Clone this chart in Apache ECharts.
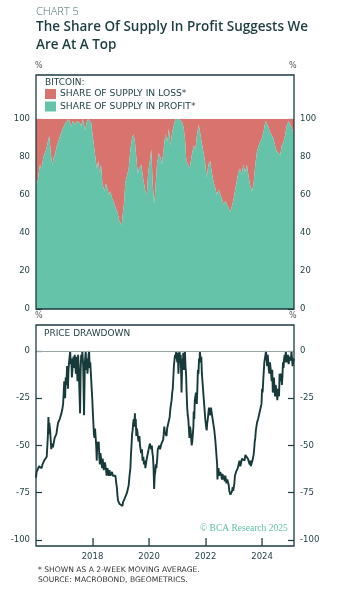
<!DOCTYPE html>
<html>
<head>
<meta charset="utf-8">
<script src="https://cdn.jsdelivr.net/npm/echarts@6/dist/echarts.min.js"></script>
<style>
  html, body { margin: 0; padding: 0; background: #fff; }
  #chart { width: 351px; height: 604px; }
</style>
</head>
<body>
<div id="chart"></div>
<script>
// share of supply in profit, % (2-week MA); the rest up to 100 is in loss
const profitDates = [
  2016.00, 2016.05, 2016.10, 2016.14, 2016.20, 2016.26, 2016.31, 2016.36, 2016.42, 2016.47,
  2016.50, 2016.55, 2016.58, 2016.63, 2016.68, 2016.74, 2016.79, 2016.85, 2016.90, 2016.95,
  2017.00, 2017.05, 2017.10, 2017.16, 2017.20, 2017.25, 2017.30, 2017.35, 2017.40, 2017.45,
  2017.50, 2017.55, 2017.60, 2017.65, 2017.70, 2017.74, 2017.79, 2017.84, 2017.90, 2017.95,
  2018.00, 2018.05, 2018.10, 2018.15, 2018.20, 2018.25, 2018.30, 2018.35, 2018.42, 2018.47,
  2018.52, 2018.58, 2018.63, 2018.70, 2018.76, 2018.82, 2018.88, 2018.94, 2019.00, 2019.03,
  2019.07, 2019.12, 2019.16, 2019.22, 2019.28, 2019.34, 2019.40, 2019.45, 2019.50, 2019.55,
  2019.60, 2019.65, 2019.72, 2019.80, 2019.87, 2019.92, 2019.97, 2020.03, 2020.08, 2020.13,
  2020.18, 2020.22, 2020.28, 2020.34, 2020.40, 2020.46, 2020.53, 2020.58, 2020.65, 2020.70,
  2020.76, 2020.82, 2020.88, 2020.94, 2021.00, 2021.06, 2021.12, 2021.18, 2021.23, 2021.28,
  2021.32, 2021.38, 2021.44, 2021.50, 2021.58, 2021.64, 2021.70, 2021.76, 2021.80, 2021.86,
  2021.92, 2021.98, 2022.04, 2022.10, 2022.16, 2022.22, 2022.28, 2022.34, 2022.40, 2022.46,
  2022.52, 2022.58, 2022.64, 2022.70, 2022.76, 2022.82, 2022.88, 2022.93, 2022.98, 2023.04,
  2023.10, 2023.16, 2023.22, 2023.28, 2023.34, 2023.40, 2023.46, 2023.52, 2023.58, 2023.64,
  2023.70, 2023.76, 2023.82, 2023.88, 2023.94, 2024.00, 2024.06, 2024.12, 2024.17, 2024.22,
  2024.28, 2024.34, 2024.40, 2024.46, 2024.52, 2024.58, 2024.64, 2024.70, 2024.76, 2024.82,
  2024.88, 2024.94, 2025.00, 2025.06, 2025.13
];
const profitShare = [
  68, 66, 72, 76, 74, 80, 82, 84, 88, 91,
  86, 78, 76, 80, 82, 86, 88, 91, 93, 95,
  94, 98, 97, 100, 98, 96, 99, 100, 97, 99,
  100, 98, 96, 100, 97, 94, 98, 100, 99, 98,
  92, 86, 80, 74, 78, 72, 76, 66, 62, 66,
  64, 60, 62, 58, 56, 53, 51, 47, 46, 44,
  50, 56, 67, 70, 74, 84, 90, 92, 88, 80,
  71, 74, 76, 68, 62, 60, 72, 78, 84, 66,
  55, 62, 76, 82, 80, 76, 86, 92, 88, 95,
  86, 93, 97, 100, 99, 100, 99, 98, 95, 88,
  78, 76, 74, 80, 86, 84, 92, 97, 96, 88,
  83, 78, 69, 76, 78, 72, 67, 64, 60, 63,
  62, 58, 55, 57, 55, 53, 51, 52, 57, 62,
  67, 72, 74, 71, 76, 72, 76, 70, 65, 62,
  66, 76, 83, 86, 88, 90, 94, 99, 99, 96,
  93, 92, 90, 86, 83, 84, 81, 86, 88, 92,
  97, 99, 98, 95, 92
];

// price drawdown from previous high, %
const drawdownDates = [
  2016.00, 2016.02, 2016.04, 2016.06, 2016.08, 2016.11, 2016.14, 2016.17, 2016.20, 2016.23,
  2016.26, 2016.29, 2016.31, 2016.34, 2016.36, 2016.38, 2016.40, 2016.42, 2016.44, 2016.46,
  2016.47, 2016.50, 2016.52, 2016.54, 2016.56, 2016.58, 2016.60, 2016.62, 2016.66, 2016.69,
  2016.72, 2016.75, 2016.78, 2016.81, 2016.84, 2016.87, 2016.90, 2016.93, 2016.96, 2017.00,
  2017.02, 2017.03, 2017.05, 2017.07, 2017.09, 2017.10, 2017.12, 2017.13, 2017.15, 2017.17,
  2017.19, 2017.21, 2017.23, 2017.25, 2017.27, 2017.29, 2017.31, 2017.33, 2017.35, 2017.37,
  2017.39, 2017.41, 2017.43, 2017.45, 2017.47, 2017.49, 2017.51, 2017.53, 2017.56, 2017.58,
  2017.60, 2017.62, 2017.64, 2017.67, 2017.70, 2017.73, 2017.76, 2017.78, 2017.80, 2017.82,
  2017.84, 2017.86, 2017.88, 2017.90, 2017.92, 2017.95, 2017.97, 2017.99, 2018.01, 2018.03,
  2018.05, 2018.07, 2018.09, 2018.11, 2018.13, 2018.15, 2018.17, 2018.19, 2018.22, 2018.24,
  2018.26, 2018.28, 2018.30, 2018.32, 2018.34, 2018.36, 2018.38, 2018.40, 2018.42, 2018.44,
  2018.46, 2018.48, 2018.50, 2018.53, 2018.55, 2018.58, 2018.60, 2018.63, 2018.66, 2018.69,
  2018.72, 2018.75, 2018.78, 2018.81, 2018.84, 2018.86, 2018.88, 2018.90, 2018.92, 2018.94,
  2018.96, 2018.98, 2019.00, 2019.02, 2019.04, 2019.06, 2019.08, 2019.10, 2019.12, 2019.14,
  2019.16, 2019.19, 2019.22, 2019.25, 2019.28, 2019.31, 2019.34, 2019.36, 2019.38, 2019.40,
  2019.42, 2019.44, 2019.46, 2019.48, 2019.50, 2019.51, 2019.53, 2019.55, 2019.57, 2019.59,
  2019.61, 2019.63, 2019.66, 2019.68, 2019.70, 2019.72, 2019.75, 2019.77, 2019.80, 2019.82,
  2019.85, 2019.87, 2019.90, 2019.92, 2019.94, 2019.96, 2019.98, 2020.00, 2020.03, 2020.06,
  2020.08, 2020.10, 2020.12, 2020.14, 2020.16, 2020.18, 2020.20, 2020.22, 2020.24, 2020.26,
  2020.29, 2020.31, 2020.34, 2020.36, 2020.39, 2020.41, 2020.44, 2020.46, 2020.48, 2020.50,
  2020.52, 2020.54, 2020.56, 2020.58, 2020.60, 2020.62, 2020.64, 2020.66, 2020.68, 2020.70,
  2020.73, 2020.76, 2020.78, 2020.80, 2020.82, 2020.84, 2020.86, 2020.88, 2020.90, 2020.92,
  2020.94, 2020.96, 2020.98, 2021.00, 2021.02, 2021.04, 2021.06, 2021.08, 2021.10, 2021.12,
  2021.14, 2021.15, 2021.17, 2021.18, 2021.20, 2021.21, 2021.23, 2021.24, 2021.26, 2021.27,
  2021.29, 2021.31, 2021.33, 2021.35, 2021.37, 2021.39, 2021.41, 2021.43, 2021.45, 2021.47,
  2021.49, 2021.51, 2021.53, 2021.55, 2021.57, 2021.58, 2021.60, 2021.62, 2021.64, 2021.66,
  2021.68, 2021.69, 2021.71, 2021.73, 2021.75, 2021.77, 2021.79, 2021.80, 2021.82, 2021.83,
  2021.85, 2021.87, 2021.89, 2021.91, 2021.93, 2021.95, 2021.97, 2021.99, 2022.02, 2022.04,
  2022.06, 2022.08, 2022.10, 2022.12, 2022.15, 2022.17, 2022.19, 2022.22, 2022.25, 2022.27,
  2022.29, 2022.31, 2022.33, 2022.35, 2022.37, 2022.39, 2022.41, 2022.42, 2022.44, 2022.46,
  2022.48, 2022.50, 2022.52, 2022.54, 2022.56, 2022.58, 2022.60, 2022.62, 2022.64, 2022.66,
  2022.68, 2022.70, 2022.72, 2022.74, 2022.77, 2022.80, 2022.82, 2022.84, 2022.86, 2022.88,
  2022.90, 2022.92, 2022.94, 2022.96, 2022.98, 2023.00, 2023.02, 2023.04, 2023.06, 2023.08,
  2023.11, 2023.14, 2023.17, 2023.20, 2023.23, 2023.26, 2023.29, 2023.32, 2023.35, 2023.38,
  2023.41, 2023.44, 2023.46, 2023.48, 2023.50, 2023.52, 2023.54, 2023.56, 2023.58, 2023.60,
  2023.63, 2023.66, 2023.68, 2023.70, 2023.72, 2023.74, 2023.76, 2023.78, 2023.80, 2023.82,
  2023.84, 2023.86, 2023.89, 2023.92, 2023.95, 2023.98, 2024.00, 2024.02, 2024.04, 2024.06,
  2024.08, 2024.10, 2024.12, 2024.14, 2024.16, 2024.18, 2024.20, 2024.22, 2024.24, 2024.26,
  2024.28, 2024.30, 2024.32, 2024.34, 2024.36, 2024.38, 2024.40, 2024.42, 2024.44, 2024.46,
  2024.48, 2024.50, 2024.52, 2024.54, 2024.56, 2024.58, 2024.60, 2024.62, 2024.64, 2024.66,
  2024.68, 2024.70, 2024.72, 2024.74, 2024.76, 2024.78, 2024.80, 2024.82, 2024.84, 2024.86,
  2024.88, 2024.90, 2024.92, 2024.94, 2024.96, 2024.98, 2025.00, 2025.02, 2025.04, 2025.06,
  2025.08, 2025.10, 2025.13
];
const drawdown = [
  -67, -64, -63, -65, -64, -61, -62, -60, -62, -60,
  -61, -58, -59, -57, -58, -56, -56, -45, -35, -44,
  -38, -42, -47, -52, -49, -48, -51, -50, -46, -47,
  -44, -41, -38, -39, -36, -37, -33, -31, -28, -16,
  -22, -25, -14, -18, -12, -8, -15, -20, -10, -6,
  -3, 0, -7, -4, -14, -10, -5, -3, -9, -2,
  -6, -12, -3, -4, -16, -2, -8, -18, -33, -10,
  -2, -6, 0, -8, -34, -6, 0, -10, -4, -12,
  -8, -2, 0, -9, -6, -14, -20, -25, -32, -38,
  -44, -46, -41, -40, -50, -58, -48, -52, -48, -56,
  -60, -54, -55, -59, -62, -57, -58, -63, -64, -59,
  -61, -63, -66, -62, -64, -66, -63, -66, -65, -64,
  -66, -65, -67, -66, -70, -72, -76, -79, -80, -78,
  -81, -80, -82, -80, -80, -82, -80, -79, -79, -78,
  -78, -77, -75, -73, -71, -66, -62, -55, -50, -44,
  -42, -38, -36, -40, -33, -40, -36, -45, -41, -43,
  -46, -48, -45, -50, -49, -54, -52, -58, -56, -60,
  -58, -62, -59, -57, -56, -54, -53, -51, -49, -50,
  -52, -50, -54, -56, -62, -73, -66, -64, -60, -62,
  -57, -52, -51, -50, -52, -51, -49, -48, -50, -47,
  -44, -40, -43, -44, -42, -45, -41, -42, -40, -40,
  -35, -30, -28, -26, -22, -20, -14, -8, -5, -2,
  -4, 0, -3, -6, -1, -12, -5, 0, -6, -2,
  -14, -22, -8, -4, -10, -1, -6, -10, -3, 0,
  -8, -12, -22, -30, -34, -36, -41, -46, -40, -42,
  -46, -50, -48, -44, -40, -32, -36, -26, -24, -22,
  -26, -28, -20, -10, -12, -4, -6, 0, -4, -6,
  -3, -12, -16, -20, -24, -28, -32, -36, -40, -42,
  -38, -36, -33, -30, -34, -34, -30, -30, -36, -38,
  -40, -42, -45, -48, -52, -56, -60, -68, -64, -62,
  -66, -66, -64, -63, -66, -68, -65, -66, -68, -66,
  -69, -66, -68, -70, -68, -68, -71, -74, -73, -76,
  -75, -75, -74, -72, -74, -73, -70, -66, -67, -64,
  -65, -62, -60, -58, -61, -60, -57, -56, -58, -58,
  -55, -54, -56, -55, -57, -58, -56, -60, -58, -61,
  -60, -58, -57, -55, -52, -48, -46, -42, -40, -38,
  -39, -36, -34, -32, -30, -28, -20, -22, -16, -11,
  -6, -4, -2, 0, -4, -8, -2, -3, -10, -12,
  -6, -7, -12, -16, -10, -22, -18, -14, -20, -24,
  -18, -18, -22, -26, -20, -20, -24, -12, -16, -15,
  -12, -18, -14, -6, -9, -4, -2, -6, 0, -3,
  -6, -4, -2, -7, -8, -3, -2, -5, 0, -4,
  -8, -6, -4
];

const yearTicks = [2018, 2020, 2022, 2024];
const shareTicks = [0, 20, 40, 60, 80, 100];
const drawdownTicks = [-100, -75, -50, -25, 0];

const lossName = 'SHARE OF SUPPLY IN LOSS*';
const profitName = 'SHARE OF SUPPLY IN PROFIT*';

const RED = '#d9736e';
const GREEN = '#65c3aa';
const INK = '#1d3d40';
const LINE = '#173a3b';

const DD_MIN = -103.2;   // bottom of the lower frame, a little under -100
const profitData = profitDates.map((d, i) => [d, profitShare[i]]);
const drawdownData = drawdownDates.map((d, i) => [d, drawdown[i]]);

const chart = echarts.init(document.getElementById('chart'), null, { renderer: 'canvas' });

const axisFont = { fontFamily: 'DejaVu Sans', fontWeight: 'normal', fontSize: 8.5, color: INK };
const tickStyle = { color: INK, width: 1.2 };

function shareAxis(pos) {
  return {
    type: 'value', gridIndex: 0, position: pos, min: 0, max: 100, interval: 20,
    axisLine: { show: false },
    axisTick: { show: true, inside: true, length: 6, lineStyle: tickStyle },
    axisLabel: Object.assign({ margin: 6 }, axisFont),
    splitLine: { show: false }
  };
}

function drawdownAxis(pos) {
  return {
    type: 'value', gridIndex: 1, position: pos, min: DD_MIN, max: 0,
    axisLine: { show: false },
    axisTick: { show: true, inside: true, length: 6, lineStyle: tickStyle, customValues: drawdownTicks },
    axisLabel: Object.assign({ margin: 6, customValues: drawdownTicks }, axisFont),
    splitLine: { show: false }
  };
}

const texts = [
  { type: 'text', left: 36, top: 6, style: { text: 'CHART 5', font: '300 11px "Open Sans"', fill: '#4f6f71' } },
  { type: 'text', left: 36, top: 20, style: { text: 'The Share Of Supply In Profit Suggests We', font: '600 13.5px "Open Sans"', fill: INK } },
  { type: 'text', left: 36, top: 38, style: { text: 'Are At A Top', font: '600 13.5px "Open Sans"', fill: INK } },
  { type: 'text', left: 35, top: 62, style: { text: '%', font: '8px "DejaVu Sans"', fill: '#555' } },
  { type: 'text', left: 289, top: 62, style: { text: '%', font: '8px "DejaVu Sans"', fill: '#555' } },
  { type: 'text', left: 35, top: 312, style: { text: '%', font: '8px "DejaVu Sans"', fill: '#555' } },
  { type: 'text', left: 289, top: 312, style: { text: '%', font: '8px "DejaVu Sans"', fill: '#555' } },
  { type: 'text', left: 45, top: 78, style: { text: 'BITCOIN:', font: '9px "DejaVu Sans"', fill: INK } },
  { type: 'text', left: 44, top: 329, style: { text: 'PRICE DRAWDOWN', font: '9px "DejaVu Sans"', fill: INK } },
  { type: 'text', left: 200, top: 523, style: { text: '\u00a9 BCA Research 2025', font: '9.5px "Liberation Serif"', fill: '#5cbfa4' } },
  { type: 'text', left: 38, top: 566, style: { text: '* SHOWN AS A 2-WEEK MOVING AVERAGE.', font: '7.6px "DejaVu Sans"', fill: '#333' } },
  { type: 'text', left: 38, top: 576, style: { text: 'SOURCE: MACROBOND, BGEOMETRICS.', font: '7.6px "DejaVu Sans"', fill: '#333' } },
  {
    type: 'rect', z: 100, shape: { x: 36, y: 75, width: 258, height: 234 },
    style: { fill: 'none', stroke: INK, lineWidth: 1.3 }
  },
  {
    type: 'rect', z: 100, shape: { x: 36, y: 325, width: 258, height: 221 },
    style: { fill: 'none', stroke: INK, lineWidth: 1.3 }
  }
];

const option = {
  backgroundColor: '#fff',
  animation: false,
  legend: {
    data: [lossName, profitName],
    orient: 'vertical',
    left: 45, top: 89, padding: 0,
    itemWidth: 11, itemHeight: 10, itemGap: 2.5,
    icon: 'rect',
    textStyle: { fontFamily: 'DejaVu Sans', fontSize: 9.2, color: INK, padding: [0, 0, 0, -1] },
    selectedMode: false
  },
  grid: [
    { left: 36, right: 57, top: 119, height: 190 },
    { left: 36, right: 57, top: 351, height: 195 }
  ],
  xAxis: [
    {
      type: 'value', gridIndex: 0, min: 2016, max: 2025.13,
      axisLine: { show: false, onZero: false }, axisTick: { show: false }, axisLabel: { show: false },
      splitLine: { show: false }
    },
    {
      type: 'value', gridIndex: 1, position: 'bottom', min: 2016, max: 2025.13,
      axisLine: { show: false, onZero: false },
      axisTick: { show: false },
      axisLabel: Object.assign({ margin: 6, customValues: yearTicks, formatter: v => String(v) }, axisFont),
      splitLine: { show: false }
    }
  ],
  yAxis: [shareAxis('left'), shareAxis('right'), drawdownAxis('left'), drawdownAxis('right')],
  series: [
    {
      // loss = area from the profit curve up to 100
      name: lossName, type: 'line', xAxisIndex: 0, yAxisIndex: 0,
      data: profitData, symbol: 'none', lineStyle: { width: 0 },
      itemStyle: { color: RED }, areaStyle: { color: RED, opacity: 1, origin: 'end' }
    },
    {
      name: profitName, type: 'line', xAxisIndex: 0, yAxisIndex: 0,
      data: profitData, symbol: 'none', lineStyle: { width: 0 },
      itemStyle: { color: GREEN }, areaStyle: { color: GREEN, opacity: 1, origin: 'start' }
    },
    {
      name: 'PRICE DRAWDOWN', type: 'line', xAxisIndex: 1, yAxisIndex: 2,
      data: drawdownData, symbol: 'none',
      lineStyle: { color: LINE, width: 1.9 },
      markLine: {
        silent: true, symbol: 'none', label: { show: false },
        lineStyle: { color: '#9aa5a5', width: 1, type: 'solid' },
        data: [{ yAxis: 0 }]
      }
    }
  ],
  graphic: texts
};

chart.setOption(option);

// year ticks on the bottom frame: x from the axis scale, pointing up into the panel
const frameBottom = 546;
const yearTickLines = [];
yearTicks.forEach(y => {
  const px = chart.convertToPixel({ xAxisIndex: 1 }, y);
  if (typeof px === 'number' && isFinite(px)) {
    yearTickLines.push({
      type: 'rect', z: 101,
      shape: { x: Math.round(px) - 0.6, y: frameBottom - 8, width: 1.3, height: 8 },
      style: { fill: INK }
    });
  }
});
chart.setOption({ graphic: texts.concat(yearTickLines) });
</script>
</body>
</html>
